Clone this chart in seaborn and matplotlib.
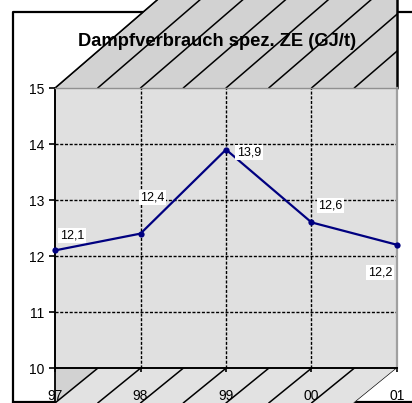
import matplotlib
matplotlib.use("Agg")
import matplotlib.pyplot as plt
from matplotlib.patches import Polygon
import seaborn as sns
import pandas as pd

# Data
years = ["97", "98", "99", "00", "01"]
steam = [12.1, 12.4, 13.9, 12.6, 12.2]
value_labels = ["12,1", "12,4", "13,9", "12,6", "12,2"]
y_ticks = [10, 11, 12, 13, 14, 15]
title = "Dampfverbrauch spez. ZE (GJ/t)"

sns.set_theme(style="white")
plt.rcParams["font.family"] = ["Liberation Sans", "DejaVu Sans"]

W, H = 412, 403
fig = plt.figure(figsize=(W / 100, H / 100), dpi=100)
fig.patch.set_facecolor("white")

# Pixel-space layer for the 3D box decoration
deco = fig.add_axes([0, 0, 1, 1], zorder=0)
deco.set_xlim(0, W)
deco.set_ylim(H, 0)
deco.axis("off")

L, R, T, B = 55, 397, 88, 368  # wall edges in pixels

# outer chart frame
deco.plot([13, 13, W + 2], [H + 2, 12, 12], color="black", lw=1.6,
          solid_capstyle="butt", zorder=0.5)
deco.plot([13, W + 2], [402, 402], color="black", lw=1.6, zorder=0.5)

# hatched top panel
k_top = 102 / 88.0
top_poly = Polygon([(L, T), (R, T), (R, -2), (L + k_top * (T + 2), -2)],
                   closed=True, facecolor="#d2d2d2", edgecolor="none", zorder=1)
deco.add_patch(top_poly)
for i in range(9):
    x0 = L + i * 42.75
    ln, = deco.plot([x0, x0 + k_top * (T + 2)], [T, -2], color="black", lw=1.1, zorder=2)
    ln.set_clip_path(top_poly)
deco.plot([L, L + k_top * (T + 2)], [T, -2], color="black", lw=1.1, zorder=2)
deco.plot([R, R], [-2, T], color="black", lw=1.8, zorder=3)

# hatched floor
k_fl = 43 / 35.0
floor_poly = Polygon([(L, B), (R, B), (R - k_fl * (H - B), H), (L, H)],
                     closed=True, facecolor="#e2e2e2", edgecolor="none", zorder=1)
deco.add_patch(floor_poly)
deco.add_patch(Polygon([(L, B), (L + k_fl * (H - B), B), (L, H)], closed=True,
                       facecolor="#d2d2d2", edgecolor="none", zorder=1))
for i in range(9):
    x0 = L + i * 42.75
    ln, = deco.plot([x0, x0 + k_fl * (H - B)], [H, B], color="black", lw=1.1, zorder=2)
    ln.set_clip_path(floor_poly)
deco.plot([L, L], [B, H], color="black", lw=1.3, zorder=3)

deco.text(217, 42, title, ha="center", va="center", fontsize=13.2,
          fontweight="bold", color="black", zorder=4)

# Back wall with the series
ax = fig.add_axes([L / W, (H - B) / H, (R - L) / W, (B - T) / H], zorder=1)
ax.set_facecolor("#e0e0e0")
df = pd.DataFrame({"pos": range(len(years)), "value": steam})
sns.lineplot(data=df, x="pos", y="value", ax=ax, color="#000080", lw=1.6,
             marker="o", markersize=4.5, markeredgewidth=0, clip_on=False, zorder=5)

ax.set_xlim(0, len(years) - 1)
ax.set_ylim(y_ticks[0], y_ticks[-1])
ax.set_xticks(range(len(years)))
ax.set_xticklabels(years)
ax.set_yticks(y_ticks)
ax.set_xlabel("")
ax.set_ylabel("")

for y in y_ticks[1:-1]:
    ax.axhline(y, color="black", lw=1.0, ls=(0, (2.2, 1.2)), zorder=2)
for x in range(1, len(years) - 1):
    ax.axvline(x, color="black", lw=1.0, ls=(0, (2.2, 1.2)), zorder=2)

for side in ["left", "bottom"]:
    ax.spines[side].set_visible(True)
    ax.spines[side].set_color("black")
    ax.spines[side].set_linewidth(1.4)
ax.spines["top"].set_color("#909090")
ax.spines["top"].set_linestyle((0, (1.5, 1)))
ax.spines["top"].set_linewidth(1.0)
ax.spines["right"].set_color("#a0a0a0")
ax.spines["right"].set_linewidth(1.6)

ax.tick_params(axis="y", direction="out", length=4, width=1.2, color="black",
               pad=3.5, labelsize=10, labelcolor="black", left=True)
ax.tick_params(axis="x", direction="out", length=3, width=1.2, color="black",
               pad=12, labelsize=10, labelcolor="black", bottom=True)

# value labels next to each point
offsets = [(17, 15), (12, 36), (23, -3), (19, 17), (-17, -28)]
for i, (v, lab) in enumerate(zip(steam, value_labels)):
    dx, dy = offsets[i]
    ax.annotate(lab, (i, v), xytext=(dx * 0.72, dy * 0.72), textcoords="offset points",
                ha="center", va="center", fontsize=9, color="black", zorder=6,
                annotation_clip=False,
                bbox=dict(boxstyle="square,pad=0.12", facecolor="white", edgecolor="none"))

fig.savefig("out.png", dpi=100, facecolor="white")
